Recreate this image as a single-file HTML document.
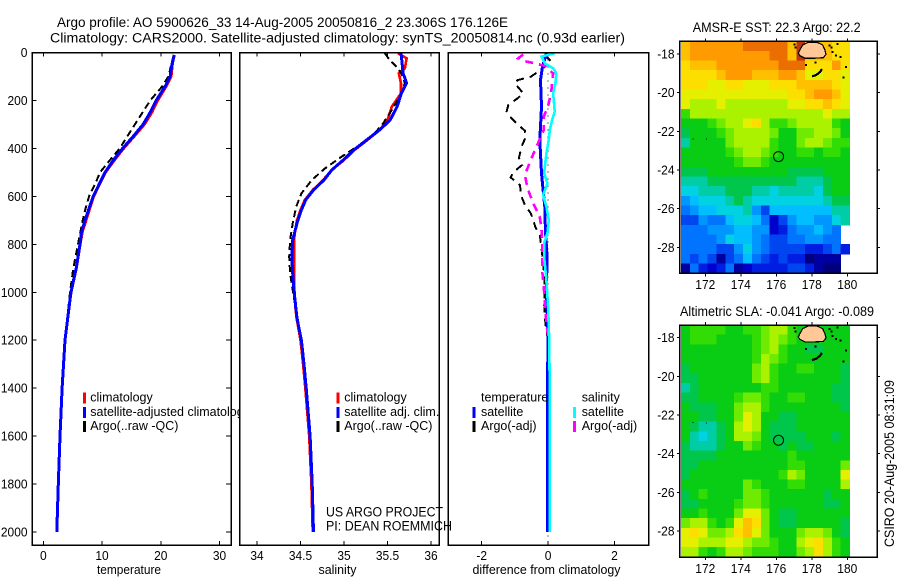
<!DOCTYPE html>
<html>
<head>
<meta charset="utf-8">
<title>Argo profile</title>
<style>
html,body{margin:0;padding:0;background:#fff;}
svg{display:block;font-family:"Liberation Sans",sans-serif;font-size:13px;fill:#000;}
</style>
</head>
<body>
<svg id="chart" width="900" height="580" viewBox="0 0 900 580" xmlns="http://www.w3.org/2000/svg">
<rect x="0" y="0" width="900" height="580" fill="#fff"/>
<g id="layer"></g>
<g style="font-size:13.5px">
<text x="57" y="27" textLength="451" lengthAdjust="spacingAndGlyphs">Argo profile: AO 5900626_33 14-Aug-2005 20050816_2 23.306S 176.126E</text>
<text x="50" y="42.5" textLength="575" lengthAdjust="spacingAndGlyphs">Climatology: CARS2000. Satellite-adjusted climatology: synTS_20050814.nc (0.93d earlier)</text>
<text x="692.7" y="32" textLength="168" lengthAdjust="spacingAndGlyphs">AMSR-E SST: 22.3 Argo: 22.2</text>
<text x="680" y="316" textLength="194" lengthAdjust="spacingAndGlyphs">Altimetric SLA: -0.041 Argo: -0.089</text>
<text x="326" y="516.7" textLength="117" lengthAdjust="spacingAndGlyphs">US ARGO PROJECT</text>
<text x="326" y="530.7" textLength="126" lengthAdjust="spacingAndGlyphs">PI: DEAN ROEMMICH</text>
<text transform="translate(894,547) rotate(-90)" textLength="167" lengthAdjust="spacingAndGlyphs">CSIRO 20-Aug-2005 08:31:09</text>
</g>
</svg>
<script>
// ---- depth axis ticks
var depthTicks = [0,200,400,600,800,1000,1200,1400,1600,1800,2000];
var tempTicks = [0,10,20,30];
var salTicks = [34,34.5,35,35.5,36];
var salTickLabels = ['34','34.5','35','35.5','36'];
var diffTicks = [-2,0,2];
var lonTicks = [172,174,176,178,180];
var latTicks = [-18,-20,-22,-24,-26,-28];

// ---- temperature panel
var tempDepths = [10,50,100,143,200,250,300,350,400,450,500,550,600,650,700,750,800,900,1000,1200,1400,1600,1800,2000];
var tempClim = [22.3,22.0,21.8,20.9,19.5,18.5,17.25,15.5,13.7,12.1,10.6,9.6,8.6,7.95,7.3,6.65,6.3,5.65,4.75,3.7,3.2,2.85,2.55,2.3];
var tempSat = [22.3,21.9,21.6,20.7,19.2,18.2,17.0,15.3,13.5,11.9,10.5,9.5,8.5,7.8,7.1,6.5,6.25,5.6,4.7,3.7,3.2,2.85,2.55,2.3];
var tempArgo = [22.2,21.8,21.3,20.2,18.2,16.9,15.6,14.3,13.0,11.3,9.65,8.8,7.8,7.2,6.7,6.3,5.9,5.1,4.55,3.7,3.2,2.85,2.55,2.3];

// ---- salinity panel
var salDepths = [3,87,128,170,226,282,323,365,407,449,490,532,574,615,657,699,740,782,852,921,991,1060,1108,1200,1300,1400,1600,1800,2000];
var salSat = [35.655,35.68,35.72,35.66,35.61,35.53,35.41,35.26,35.11,34.99,34.86,34.77,34.65,34.56,34.51,34.47,34.44,34.41,34.40,34.41,34.425,34.445,34.46,34.51,34.54,34.565,34.61,34.635,34.65];
var salClimDepths = [3,24,66,87,128,170,226,282,323,365,407,449,490,532,574,615,657,699,740,782,852,921,991,1060,1108,1200,1300,1400,1600,1800,2000];
var salClim = [35.62,35.72,35.70,35.63,35.655,35.655,35.55,35.50,35.41,35.27,35.12,35.0,34.86,34.76,34.64,34.55,34.50,34.46,34.44,34.425,34.425,34.425,34.43,34.44,34.455,34.50,34.53,34.555,34.60,34.625,34.64];
var salArgoDepths = [3,24,66,87,128,184,240,295,351,393,435,484,532,588,643,713,782,852,921,991,1060,1108,1200];
var salArgo = [35.47,35.51,35.62,35.66,35.70,35.64,35.55,35.45,35.32,35.15,34.97,34.78,34.63,34.51,34.45,34.41,34.38,34.37,34.38,34.41,34.44,34.46,34.51];

// ---- difference panel
var diffTempSatDepths = [3,59,115,226,365,504,574,643,740,852,991,1186,1400,2000];
var diffTempSat = [-0.05,-0.17,-0.23,-0.20,-0.25,-0.20,-0.15,-0.10,-0.08,-0.03,-0.05,0,-0.02,-0.02];
var diffSalSatDepths = [3,17,45,66,87,129,170,212,247,282,323,365,421,504,546,594,643,699,754,796,852,907,949,1060,1186,1400,2000];
var diffSalSat = [0.2,-0.2,-0.1,0.15,0.25,0.22,0.15,0.18,0.2,0.12,0.05,0.02,-0.05,-0.12,-0.02,-0.15,-0.05,0.02,-0.02,-0.12,-0.12,-0.08,-0.05,0,0.03,0.05,0.05];
var diffTempArgoDepths = [11,38,80,101,115,129,170,191,219,247,275,296,326,351,393,441,469,500,521,553,601,636,671,699,730,761,838,921,991,1047,1130,1186];
var diffTempArgo = [-0.10,0.10,-0.30,-0.52,-0.92,-1.0,-0.75,-0.92,-1.2,-1.25,-1.10,-0.95,-0.70,-0.67,-0.80,-0.88,-0.78,-1.05,-1.13,-0.85,-0.80,-0.70,-0.52,-0.45,-0.38,-0.25,-0.18,-0.12,-0.10,-0.12,-0.08,-0.02];
var diffSalArgoDepths = [8,24,38,45,56,87,156,212,268,323,393,448,511,566,629,685,740,810,907,977,1047,1130,1186];
var diffSalArgo = [-0.75,-0.90,-0.65,-0.40,-0.10,0.15,0.10,0.02,-0.13,-0.13,-0.35,-0.52,-0.70,-0.62,-0.45,-0.25,-0.20,-0.17,-0.18,-0.13,-0.10,-0.05,0];

// ---- map grids: colour-scale level per half-degree cell, north to south
var sstGrid = [
[17,18,18,18,18,18,18,19,19,19,19,19,17,20,17,17,17,16,16],
[17,18,18,18,18,18,18,18,18,18,19,19,17,20,17,17,17,16,16],
[16,17,17,17,18,18,18,18,18,18,18,19,19,19,16,16,16,18,16],
[16,16,16,16,17,18,18,18,17,17,17,18,18,17,15,15,16,16,15],
[16,16,16,15,15,16,16,15,15,15,16,16,16,17,17,17,17,16,15],
[15,15,15,15,15,15,15,15,15,15,15,15,16,16,17,18,18,17,15],
[15,14,14,14,15,14,14,14,14,14,14,14,15,15,16,16,17,16,15],
[12,14,14,14,14,14,14,14,14,14,14,14,14,14,14,14,15,14,14],
[11,11,11,12,13,14,14,15,16,14,12,12,13,14,14,14,14,12,11],
[10,11,11,11,12,13,14,14,14,14,13,11,11,13,13,14,14,13,11],
[9,11,11,11,11,13,14,14,14,14,12,11,11,13,14,14,13,12,12],
[11,11,11,11,11,12,13,14,14,13,12,11,11,12,12,11,12,12,11],
[11,11,11,11,11,11,12,13,13,12,11,11,11,11,11,11,11,11,11],
[10,10,10,11,11,11,11,11,11,11,11,11,10,10,10,10,11,11,11],
[9,9,9,10,10,10,10,10,10,10,10,10,10,9,9,9,10,11,11],
[8,8,9,9,9,10,10,10,9,9,8,9,9,9,9,8,10,11,11],
[6,7,8,8,8,9,10,9,8,8,8,8,8,8,8,8,9,10,10],
[5,6,7,7,8,8,8,9,6,4,7,7,7,7,7,7,7,9,9],
[4,4,6,5,5,7,8,8,7,5,2,4,6,7,7,6,6,8,9],
[5,5,5,6,6,6,7,7,6,6,2,3,5,6,6,7,6,5,null],
[5,5,5,5,6,8,7,7,6,5,4,4,5,5,6,6,5,5,null],
[5,5,5,5,4,4,6,8,6,5,4,4,4,4,3,3,4,5,3],
[5,4,5,4,1,4,5,7,5,4,3,4,3,3,0,1,1,1,null],
[1,5,3,2,3,5,1,2,3,3,3,3,4,4,3,1,0,0,null]
];
var slaGrid = [
[11,12,12,12,12,11,11,12,12,13,14,14,12,11,11,11,11,11,11],
[11,12,12,12,11,11,11,11,12,13,14,13,12,11,11,11,11,11,11],
[11,11,11,11,11,11,11,11,12,13,14,12,11,11,10,10,11,11,11],
[11,11,11,11,11,11,11,11,12,14,13,12,11,11,11,11,11,11,11],
[10,11,11,11,11,11,11,11,13,14,12,11,11,12,12,11,11,11,10],
[10,10,11,11,11,11,11,11,13,14,12,11,11,11,11,11,11,11,10],
[9,10,11,11,11,11,11,11,11,12,12,11,11,11,11,11,11,10,10],
[10,10,11,11,11,11,12,13,13,12,11,11,12,12,11,11,11,10,10],
[11,10,10,10,11,11,13,14,14,12,11,11,11,11,11,11,11,11,10],
[11,11,10,10,11,11,13,15,14,11,11,10,10,11,11,11,11,11,11],
[11,10,9,9,10,11,14,15,14,11,10,10,10,11,11,11,11,11,11],
[11,9,8,9,10,11,14,14,13,11,10,10,10,10,11,11,11,10,11],
[10,9,9,9,10,11,11,13,12,11,11,10,11,10,10,11,11,11,11],
[10,10,10,10,11,11,11,11,11,11,11,11,12,11,11,11,11,11,11],
[10,10,11,11,11,11,11,11,11,11,11,11,12,12,11,11,11,11,13],
[10,11,11,11,11,11,11,11,11,11,11,12,14,13,11,11,11,11,15],
[11,11,11,11,11,11,11,13,12,11,11,11,12,12,11,11,11,11,14],
[10,11,12,11,11,11,11,13,13,12,11,11,11,11,11,11,10,11,11],
[10,10,11,11,11,11,12,13,13,12,11,11,11,11,11,11,10,10,11],
[11,11,12,11,11,11,13,15,15,13,11,10,10,11,11,11,11,11,11],
[13,14,14,12,11,12,15,17,16,13,11,10,10,11,11,11,11,11,10],
[15,16,15,13,13,14,16,17,15,13,11,11,11,13,14,14,13,11,10],
[15,15,14,14,14,15,15,14,13,13,12,11,11,14,15,16,14,12,11],
[14,14,12,11,12,14,14,13,12,12,12,11,11,13,14,16,14,12,11]
];
var gridFirstLon = 170.63;
var gridFirstLat = -17.34;
var gridStep = 0.5;

// ---- geography
var argoLon = 176.126;
var argoLat = -23.306;
var fijiLons = [177.33,177.49,177.80,178.28,178.61,178.74,178.80,178.65,178.08,177.62,177.33,177.24];
var fijiLats = [-17.79,-17.53,-17.39,-17.39,-17.53,-17.79,-18.02,-18.19,-18.22,-18.22,-18.09,-17.96];
var isleLons = [178.01,178.24,178.46,178.57];
var isleLats = [-19.16,-19.09,-18.93,-18.78];
var dotLons = [171.27,172.04,177.62,178.14,179.87,179.74,179.31,178.95,179.05,179.4,176.96,177.02,179.55,179.1];
var dotLats = [-22.36,-22.38,-18.53,-18.40,-18.62,-19.17,-18.02,-17.5,-17.62,-17.42,-17.45,-17.62,-18.1,-17.85];

var SVGNS = 'http://www.w3.org/2000/svg';
var layer = document.getElementById('layer');

function make(tag, attrs, parent) {
  var el = document.createElementNS(SVGNS, tag);
  for (var k in attrs) el.setAttribute(k, attrs[k]);
  (parent || layer).appendChild(el);
  return el;
}
function scale(d0, d1, r0, r1) {
  return function (v) { return r0 + (v - d0) * (r1 - r0) / (d1 - d0); };
}
function label(str, x, y, anchor, name, parent, squeeze) {
  var t = make('text', {x: x, y: y, 'text-anchor': anchor || 'start'}, parent);
  t.textContent = str;
  
  
  t.setAttribute('lengthAdjust', 'spacingAndGlyphs');
  t.setAttribute('textLength', (t.getComputedTextLength() * (squeeze || 0.92)).toFixed(1));
  return t;
}

var yDepth = scale(0, 2000, 52.5, 532);
var xTemp = scale(0, 30, 43.3, 219.5);
var xSal = scale(34, 36, 257, 431);
var xDiff = scale(-2, 2, 481.7, 614.5);
var PTOP = 52.5, PBOT = 545;

function profileLine(g, depths, values, xf, color, width, dash, name) {
  var pts = depths.map(function (d, i) { return xf(values[i]).toFixed(1) + ',' + yDepth(d).toFixed(1); }).join(' ');
  var attrs = {points: pts, fill: 'none', stroke: color, 'stroke-width': width, 'shape-rendering': 'crispEdges'};
  if (dash) attrs['stroke-dasharray'] = dash;
  var line = make('polyline', attrs, g);
  
  
}

function panel(name, left, right, xf, ticks, tickLabels, axisLabel, showDepth, axisLabelX, axisLabelLen) {
  var g = make('g', {});
  
  
  var bg = make('rect', {x: left, y: PTOP, width: right - left, height: PBOT - PTOP, fill: '#fff'}, g);
  
  
  var ticksG = make('g', {stroke: '#000', 'stroke-width': 1, 'shape-rendering': 'crispEdges'}, g);
  
  
  ticks.forEach(function (v, i) {
    var x = xf(v);
    make('line', {x1: x, x2: x, y1: PTOP, y2: PTOP + 4}, ticksG);
    make('line', {x1: x, x2: x, y1: PBOT - 4, y2: PBOT}, ticksG);
    label(tickLabels[i], x, 560, 'middle', name + '-x-tick-label', g);
  });
  depthTicks.forEach(function (d) {
    var y = yDepth(d);
    if (showDepth) {
      make('line', {x1: left, x2: left + 4, y1: y, y2: y}, ticksG);
      make('line', {x1: right - 5, x2: right, y1: y, y2: y}, ticksG);
      label(String(d), 27.5, y + 4.5, 'end', 'depth-tick-label', g);
    }
  });
  var al = make('text', {x: axisLabelX, y: 574, textLength: axisLabelLen, lengthAdjust: 'spacingAndGlyphs'}, g);
  al.textContent = axisLabel;
  
  
  return g;
}
function frame(name, left, right, top, bottom) {
  var r = make('rect', {x: left, y: top, width: right - left, height: bottom - top, fill: 'none', stroke: '#000', 'stroke-width': 1.5, 'shape-rendering': 'crispEdges'});
  
  
}
function legendEntry(g, swatchX, textX, y, color, str) {
  if (color) {
    var s = make('rect', {x: swatchX, y: y - 9, width: 3, height: 11, fill: color, 'shape-rendering': 'crispEdges'}, g);
    
    
  }
  label(str, textX, y, 'start', 'legend-entry', g, 0.96);
}

// Panel 1
var p1 = panel('temperature-panel', 32.3, 231, xTemp, tempTicks, tempTicks.map(String), 'temperature', true, 97, 64);
profileLine(p1, tempDepths, tempClim, xTemp, '#f00', 2.6, null, 'temperature-climatology-line');
profileLine(p1, tempDepths, tempArgo, xTemp, '#000', 2, '7 4', 'temperature-argo-line');
profileLine(p1, tempDepths, tempSat, xTemp, '#00f', 3, null, 'temperature-satellite-line');
var l1 = make('g', {}, p1);


legendEntry(l1, 83, 90.3, 401.7, '#f00', 'climatology');
legendEntry(l1, 83, 90.3, 416, '#00f', 'satellite-adjusted climatology');
legendEntry(l1, 83, 90.3, 430, '#000', 'Argo(..raw -QC)');
frame('temperature-panel-frame', 32.3, 231, PTOP, PBOT);

// Panel 2
var p2 = panel('salinity-panel', 239.5, 439.3, xSal, salTicks, salTickLabels, 'salinity', false, 318.5, 38);
profileLine(p2, salClimDepths, salClim, xSal, '#f00', 2.6, null, 'salinity-climatology-line');
profileLine(p2, salArgoDepths, salArgo, xSal, '#000', 2, '7 4', 'salinity-argo-line');
profileLine(p2, salDepths, salSat, xSal, '#00f', 3, null, 'salinity-satellite-line');
var l2 = make('g', {}, p2);


legendEntry(l2, 336.5, 344.3, 401.7, '#f00', 'climatology');
legendEntry(l2, 336.5, 344.3, 416, '#00f', 'satellite adj. clim.');
legendEntry(l2, 336.5, 344.3, 430, '#000', 'Argo(..raw -QC)');
frame('salinity-panel-frame', 239.5, 439.3, PTOP, PBOT);

// Panel 3
var p3 = panel('difference-panel', 448.3, 648.7, xDiff, diffTicks, diffTicks.map(String), 'difference from climatology', false, 472.5, 148);
var zero = make('line', {x1: xDiff(0), x2: xDiff(0), y1: yDepth(0), y2: yDepth(2000) + 5, stroke: '#000', 'stroke-width': 1, 'stroke-dasharray': '1 6', 'shape-rendering': 'crispEdges'}, p3);


profileLine(p3, diffTempArgoDepths, diffTempArgo, xDiff, '#000', 2, '8 6', 'difference-temperature-argo-line');
profileLine(p3, diffTempSatDepths, diffTempSat, xDiff, '#00f', 3, null, 'difference-temperature-satellite-line');
profileLine(p3, diffSalArgoDepths, diffSalArgo, xDiff, '#f0f', 2.6, '8 6', 'difference-salinity-argo-line');
profileLine(p3, diffSalSatDepths, diffSalSat, xDiff, '#0ff', 2.6, null, 'difference-salinity-satellite-line');
var l3 = make('g', {}, p3);


legendEntry(l3, 0, 481, 401.7, null, 'temperature');
legendEntry(l3, 472.5, 481, 416, '#00f', 'satellite');
legendEntry(l3, 472.5, 481, 430, '#000', 'Argo(-adj)');
legendEntry(l3, 0, 581.7, 401.7, null, 'salinity');
legendEntry(l3, 573, 581.7, 416, '#0ff', 'satellite');
legendEntry(l3, 573, 581.7, 430, '#f0f', 'Argo(-adj)');
frame('difference-panel-frame', 448.3, 648.7, PTOP, PBOT);

// Maps
var colorStops = [
[0,0,125],[0,0,160],[0,0,205],[0,30,225],[0,70,240],[0,115,255],[0,150,255],[0,190,255],[0,210,225],[0,205,165],
[0,198,75],[8,205,20],[50,220,5],[110,235,0],[170,242,0],[228,240,0],[252,222,0],[255,192,0],[255,155,0],[235,110,0],[190,55,10]];
function levelColor(v) {
  var c = colorStops[Math.max(0, Math.min(20, Math.round(v)))];
  return 'rgb(' + c.join(',') + ')';
}
var xLon = scale(172, 180, 705.3, 847.3);
function drawMap(name, grid, top, bottom, latY18, latY28, labelY) {
  var yLat = scale(-18, -28, latY18, latY28);
  var g = make('g', {});
  
  
  var cells = make('g', {'shape-rendering': 'crispEdges'}, g);
  
  
  grid.forEach(function (row, r) {
    row.forEach(function (v, c) {
      if (v === null) return;
      var lon = gridFirstLon + c * gridStep, lat = gridFirstLat - r * gridStep;
      var x0 = xLon(lon), x1 = xLon(lon + gridStep), y0 = yLat(lat), y1 = yLat(lat - gridStep);
      var cell = make('rect', {x: x0, y: y0, width: x1 - x0 + 0.4, height: y1 - y0 + 0.4, fill: levelColor(v)}, cells);
      
      
    });
  });
  var land = make('polygon', {
    points: fijiLons.map(function (lo, i) { return xLon(lo).toFixed(1) + ',' + yLat(fijiLats[i]).toFixed(1); }).join(' '),
    fill: '#ffc896', stroke: '#000', 'stroke-width': 1.2, 'shape-rendering': 'crispEdges'
  }, g);
  
  
  var isle = make('polyline', {
    points: isleLons.map(function (lo, i) { return xLon(lo).toFixed(1) + ',' + yLat(isleLats[i]).toFixed(1); }).join(' '),
    fill: 'none', stroke: '#000', 'stroke-width': 2.2, 'shape-rendering': 'crispEdges'
  }, g);
  
  
  dotLons.forEach(function (lo, i) {
    var d = make('rect', {x: xLon(lo), y: yLat(dotLats[i]), width: i < 2 ? 1 : 2, height: i < 2 ? 1 : 2, fill: '#000', 'shape-rendering': 'crispEdges'}, g);
    
    
  });
  var mark = make('circle', {cx: xLon(argoLon), cy: yLat(argoLat), r: 5, fill: 'none', stroke: '#000', 'stroke-width': 1}, g);
  
  
  var tg = make('g', {stroke: '#000', 'stroke-width': 1, 'shape-rendering': 'crispEdges'}, g);
  
  
  lonTicks.forEach(function (lo) {
    var x = xLon(lo);
    make('line', {x1: x, x2: x, y1: top - 3, y2: top}, tg);
    make('line', {x1: x, x2: x, y1: bottom, y2: bottom + 3}, tg);
    label(String(lo), x, labelY, 'middle', name + '-lon-tick-label', g);
  });
  latTicks.forEach(function (la) {
    var y = yLat(la);
    make('line', {x1: 677, x2: 680, y1: y, y2: y}, tg);
    make('line', {x1: 877, x2: 880, y1: y, y2: y}, tg);
    label(String(la), 674.5, y + 4.5, 'end', name + '-lat-tick-label', g);
  });
  frame(name + '-frame', 679.7, 877.3, top, bottom);
}
drawMap('sst-map', sstGrid, 41.3, 273.3, 54, 247.3, 289);
drawMap('sla-map', slaGrid, 325, 557, 337.7, 531, 573);
</script>
</body>
</html>
